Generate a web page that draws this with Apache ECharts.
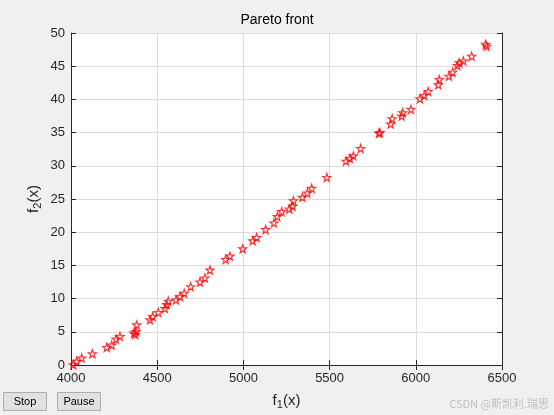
<!DOCTYPE html>
<html><head><meta charset="utf-8">
<script src="https://cdn.jsdelivr.net/npm/echarts@6/dist/echarts.min.js"></script>
<style>html,body{margin:0;padding:0;background:#f0f0f0;}#c{width:554px;height:415px;}</style>
</head><body><div id="c"></div>
<script>
const f1 = [4013,4033,4062,4124,4207,4236,4261,4284,4365,4377,4373,4381,4458,4474,4506,4545,4555,4564,4609,4632,4657,4694,4748,4777,4806,4897,4922,4996,5054,5077,5129,5177,5197,5222,5266,5286,5290,5342,5371,5396,5484,5595,5618,5638,5680,5786,5792,5854,5863,5918,5924,5972,6024,6049,6072,6130,6136,6192,6214,6241,6252,6276,6324,6405,6411];
const f2 = [0.05,0.55,1.05,1.7,2.65,3.0,3.9,4.3,4.8,5.05,4.6,6.05,6.8,7.3,7.9,8.5,9.1,9.6,9.8,10.3,10.8,11.8,12.5,13.1,14.3,15.9,16.4,17.5,18.7,19.2,20.4,21.4,22.35,23.1,23.5,23.9,24.75,25.25,25.9,26.6,28.25,30.7,31.1,31.5,32.6,34.9,35.0,36.3,37.1,37.5,38.0,38.5,40.1,40.6,41.2,42.2,43.0,43.5,44.1,45.1,45.5,45.8,46.5,48.3,48.0];
const xTicks = [4000,4500,5000,5500,6000,6500];
const yTicks = [0,5,10,15,20,25,30,35,40,45,50];
const titleText = 'Pareto front';

const pts = f1.map((v,i)=>[v,f2[i]]);
const star = 'path://M10 0 L12.35 6.76 L19.51 6.91 L13.80 11.24 L15.88 18.09 L10 14 L4.12 18.09 L6.20 11.24 L0.49 6.91 L7.65 6.76 Z';
const axCol = '#262626';
const font = 'Liberation Sans, Arial, sans-serif';
const chart = echarts.init(document.getElementById('c'));
const baseX = {type:'value',min:xTicks[0],max:xTicks[xTicks.length-1],interval:500};
const baseY = {type:'value',min:yTicks[0],max:yTicks[yTicks.length-1],interval:5};
chart.setOption({
  backgroundColor:'#f0f0f0',
  animation:false,
  title:{text:titleText,left:'center',top:8,textStyle:{fontFamily:font,fontSize:14,fontWeight:'normal',color:'#000'}},
  grid:{left:71,right:52,top:33,bottom:48,backgroundColor:'#fff',show:true,borderWidth:0},
  xAxis:[
    Object.assign({},baseX,{position:'bottom',
      name:'{a|f}{s|1}{a|(x)}',nameLocation:'middle',nameGap:26,
      nameTextStyle:{rich:{a:{fontFamily:font,fontSize:15,color:axCol},s:{fontFamily:font,fontSize:11,color:axCol,verticalAlign:'bottom',padding:[8,0,0,0]}}},
      axisLine:{show:true,lineStyle:{color:axCol,width:1}},
      axisTick:{show:true,inside:true,length:5,lineStyle:{color:axCol}},
      axisLabel:{fontFamily:font,fontSize:13,color:axCol,margin:7,formatter:v=>String(v)},
      splitLine:{show:true,lineStyle:{color:'#dcdcdc'}}}),
    Object.assign({},baseX,{position:'top',
      axisLine:{show:true,lineStyle:{color:axCol,width:1}},
      axisTick:{show:true,inside:true,length:5,lineStyle:{color:axCol}},
      axisLabel:{show:false},splitLine:{show:false}})
  ],
  yAxis:[
    Object.assign({},baseY,{position:'left',
      name:'{a|f}{s|2}{a|(x)}',nameLocation:'middle',nameGap:28,nameRotate:90,nameMoveOverlap:false,
      nameTextStyle:{rich:{a:{fontFamily:font,fontSize:15,color:axCol},s:{fontFamily:font,fontSize:11,color:axCol,padding:[8,0,0,0]}}},
      axisLine:{show:true,lineStyle:{color:axCol,width:1}},
      axisTick:{show:true,inside:true,length:5,lineStyle:{color:axCol}},
      axisLabel:{fontFamily:font,fontSize:13,color:axCol,margin:6},
      splitLine:{show:true,lineStyle:{color:'#dcdcdc'}}}),
    Object.assign({},baseY,{position:'right',
      axisLine:{show:true,lineStyle:{color:axCol,width:1}},
      axisTick:{show:true,inside:true,length:5,lineStyle:{color:axCol}},
      axisLabel:{show:false},splitLine:{show:false}})
  ],
  series:[{type:'scatter',data:pts,symbol:star,symbolSize:8,
    itemStyle:{color:'rgba(255,255,255,0)',borderColor:'#ff0000',borderWidth:1.2},clip:false}],
  graphic:[
    {type:'group',left:3,top:392,children:[
      {type:'rect',shape:{x:0,y:0,width:43,height:18},style:{fill:'#e1e1e1',stroke:'#adadad',lineWidth:1}},
      {type:'text',style:{x:21.5,y:9,text:'Stop',align:'center',verticalAlign:'middle',font:'11px '+font,fill:'#000'}}
    ]},
    {type:'group',left:57,top:392,children:[
      {type:'rect',shape:{x:0,y:0,width:43,height:18},style:{fill:'#e1e1e1',stroke:'#adadad',lineWidth:1}},
      {type:'text',style:{x:21.5,y:9,text:'Pause',align:'center',verticalAlign:'middle',font:'11px '+font,fill:'#000'}}
    ]},
    {type:'text',right:5,top:398,style:{text:'CSDN @斯凯利.瑞思',font:'11px Noto Sans CJK SC, sans-serif',fill:'#c0c0c0'}}
  ]
});
</script></body></html>
